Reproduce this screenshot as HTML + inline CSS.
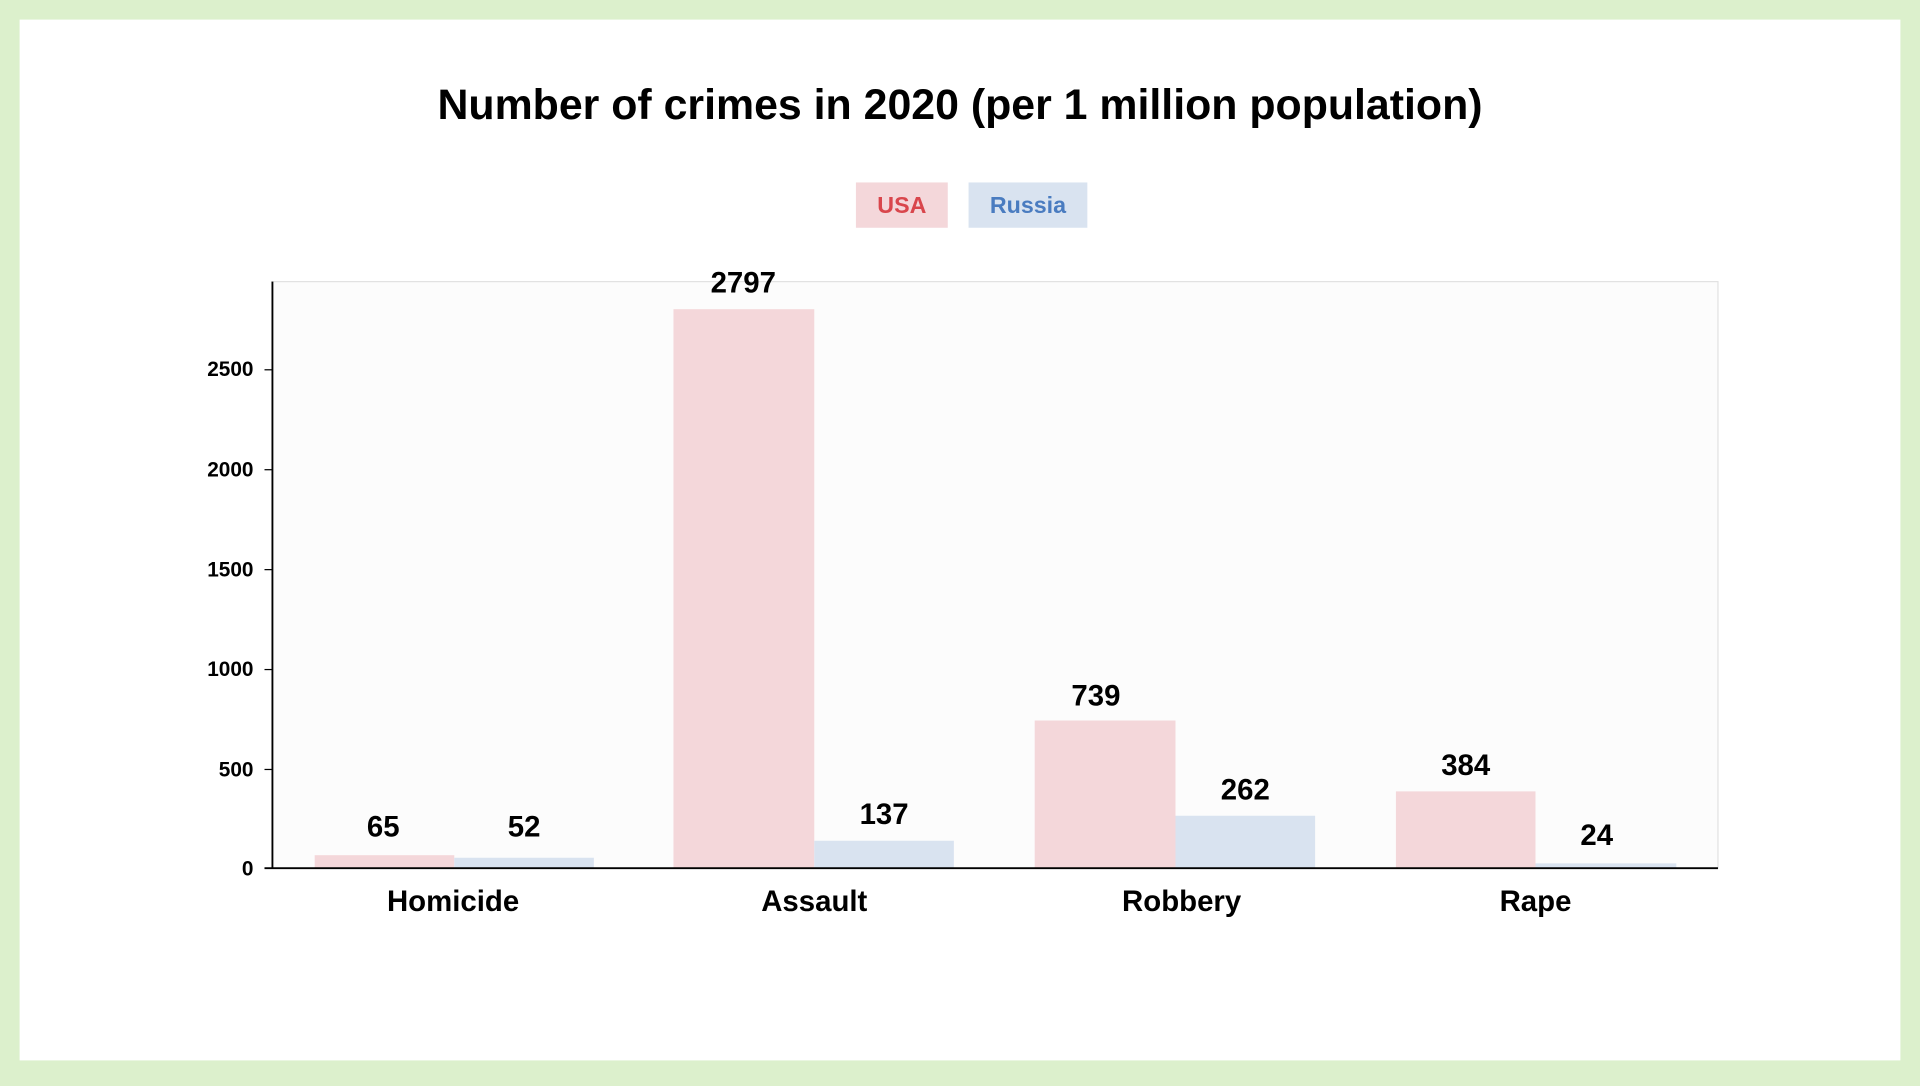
<!DOCTYPE html>
<html><head><meta charset="utf-8"><style>
html,body{margin:0;padding:0;width:1920px;height:1080px;overflow:hidden;background:#dcf0cc;}
#w{position:absolute;left:0;top:0;width:1568px;height:882px;transform:scale(1.22449);transform-origin:0 0;}
svg text{font-family:"Liberation Sans",sans-serif;font-weight:bold;}
</style></head><body><div id="w">
<svg width="1568" height="882" viewBox="0 0 1568 882">
<rect x="0" y="0" width="1568" height="882" fill="#dcf0cc"/>
<rect x="16" y="16" width="1536" height="850" fill="#fff"/>
<text x="784" y="97" font-size="35" text-anchor="middle" fill="#000">Number of crimes in 2020 (per 1 million population)</text>
<rect x="699" y="149" width="75" height="37" fill="#f4d7da"/>
<text x="736.5" y="174" font-size="19" text-anchor="middle" fill="#d9464c">USA</text>
<rect x="791" y="149" width="97" height="37" fill="#d9e3f0"/>
<text x="839.5" y="174" font-size="19" text-anchor="middle" fill="#4a7cc0">Russia</text>
<rect x="222" y="230" width="1181" height="479" fill="#fcfcfc" stroke="#e2e2e2" stroke-width="1"/>
<g fill="#f4d7da">
<rect x="257" y="698.4" width="114" height="10.6"/>
<rect x="550" y="252.5" width="115" height="456.5"/>
<rect x="845" y="588.4" width="115" height="120.6"/>
<rect x="1140" y="646.3" width="114" height="62.7"/>
</g>
<g fill="#d9e3f0">
<rect x="371" y="700.5" width="114" height="8.5"/>
<rect x="665" y="686.6" width="114" height="22.4"/>
<rect x="960" y="666.2" width="114" height="42.8"/>
<rect x="1254" y="705.1" width="115" height="3.9"/>
</g>
<line x1="222.5" y1="230" x2="222.5" y2="709" stroke="#000" stroke-width="1.5"/>
<line x1="216" y1="709" x2="1403" y2="709" stroke="#000" stroke-width="1.5"/>
<g font-size="17" text-anchor="end" fill="#000">
<text x="207" y="715">0</text>
<text x="207" y="634">500</text>
<text x="207" y="552">1000</text>
<text x="207" y="471">1500</text>
<text x="207" y="389">2000</text>
<text x="207" y="307">2500</text>
</g>
<g stroke="#000"><line x1="216" y1="628.4" x2="222" y2="628.4"/><line x1="216" y1="546.8" x2="222" y2="546.8"/><line x1="216" y1="465.2" x2="222" y2="465.2"/><line x1="216" y1="383.6" x2="222" y2="383.6"/><line x1="216" y1="302" x2="222" y2="302"/></g>
<g font-size="24" text-anchor="middle" fill="#000">
<text x="313" y="683">65</text><text x="428" y="683">52</text>
<text x="607" y="239">2797</text><text x="722" y="673">137</text>
<text x="895" y="576">739</text><text x="1017" y="653">262</text>
<text x="1197" y="633">384</text><text x="1304" y="690">24</text>
<text x="370" y="744">Homicide</text><text x="665" y="744">Assault</text>
<text x="965" y="744">Robbery</text><text x="1254" y="744">Rape</text>
</g>
</svg></div></body></html>
